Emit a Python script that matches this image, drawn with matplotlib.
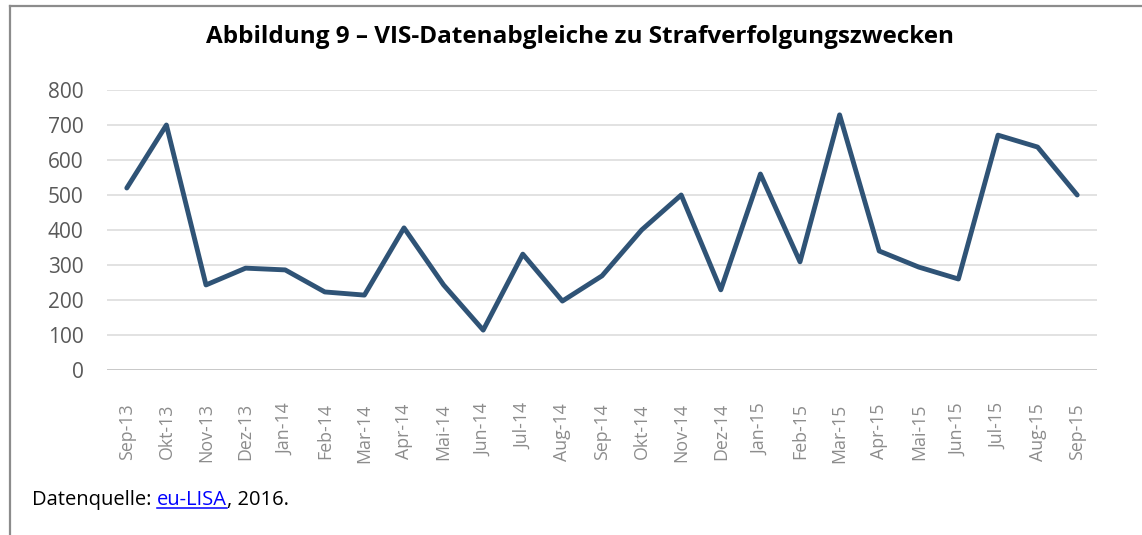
import matplotlib
matplotlib.use("Agg")
from matplotlib import pyplot as plt
from matplotlib.lines import Line2D

# Monatliche VIS-Datenabgleiche
monate = ["Sep-13", "Okt-13", "Nov-13", "Dez-13", "Jan-14", "Feb-14", "Mar-14",
          "Apr-14", "Mai-14", "Jun-14", "Jul-14", "Aug-14", "Sep-14", "Okt-14",
          "Nov-14", "Dez-14", "Jan-15", "Feb-15", "Mar-15", "Apr-15", "Mai-15",
          "Jun-15", "Jul-15", "Aug-15", "Sep-15"]
abgleiche = [520, 700, 243, 291, 286, 223, 214, 406, 243, 114, 331, 197, 269, 400,
             500, 229, 560, 309, 729, 340, 294, 260, 671, 637, 500]
y_ticks = [0, 100, 200, 300, 400, 500, 600, 700, 800]

plt.rcParams['font.family'] = ['Open Sans', 'DejaVu Sans']

W, H = 1142, 535
fig = plt.figure(figsize=(W / 100, H / 100), dpi=100)
ax = fig.add_axes([107 / W, 1 - 370 / H, (1097 - 107) / W, (370 - 90) / H])

x = list(range(len(monate)))
ax.plot(x, abgleiche, color='#2f5376', lw=3.5, solid_joinstyle='round',
        solid_capstyle='round', zorder=3)

ax.set_xlim(-0.5, len(monate) - 0.5)
ax.set_ylim(0, 800)
ax.set_yticks(y_ticks)
ax.set_yticklabels([str(v) for v in y_ticks], fontsize=15, color='#595959')
ax.set_xticks(x)
ax.set_xticklabels(monate, rotation=90, fontsize=12.8, color='#8c8c8c')
ax.tick_params(axis='both', length=0)
ax.tick_params(axis='x', pad=24)
ax.tick_params(axis='y', pad=17)
for lab in ax.get_xticklabels():
    lab.set_va('top')

for v in y_ticks[1:]:
    ax.axhline(v, color='#e2e2e2', lw=1.4, zorder=1)
ax.axhline(0, color='#c8c8c8', lw=1.4, zorder=2)
for s in ax.spines.values():
    s.set_visible(False)

fig.text(580 / W, 1 - 37 / H, "Abbildung 9 – VIS-Datenabgleiche zu Strafverfolgungszwecken",
         ha='center', va='center', fontsize=17.5, fontweight='bold')

# Rahmen links und oben
fig.add_artist(Line2D([10 / W, 10 / W], [0, 1 - 6 / H], color='#8c8c8c', lw=1.6,
                      transform=fig.transFigure))
fig.add_artist(Line2D([10 / W, 1], [1 - 6 / H, 1 - 6 / H], color='#8c8c8c', lw=1.6,
                      transform=fig.transFigure))

# Quelle
fs = 14.5
t1 = fig.text(32 / W, 1 - 500 / H, "Datenquelle: ", fontsize=fs, va='center')
fig.canvas.draw()
r = fig.canvas.get_renderer()
bb = t1.get_window_extent(r)
t2 = fig.text(bb.x1 / W, 1 - 500 / H, "eu-LISA", fontsize=fs, va='center', color='#0000ff')
bb2 = t2.get_window_extent(r)
fig.add_artist(Line2D([bb2.x0 / W, bb2.x1 / W], [(bb2.y0 + 2) / H, (bb2.y0 + 2) / H],
                      color='#0000ff', lw=1.1, transform=fig.transFigure))
fig.text(bb2.x1 / W, 1 - 500 / H, ", 2016.", fontsize=fs, va='center')

plt.savefig('out.png', dpi=100)
